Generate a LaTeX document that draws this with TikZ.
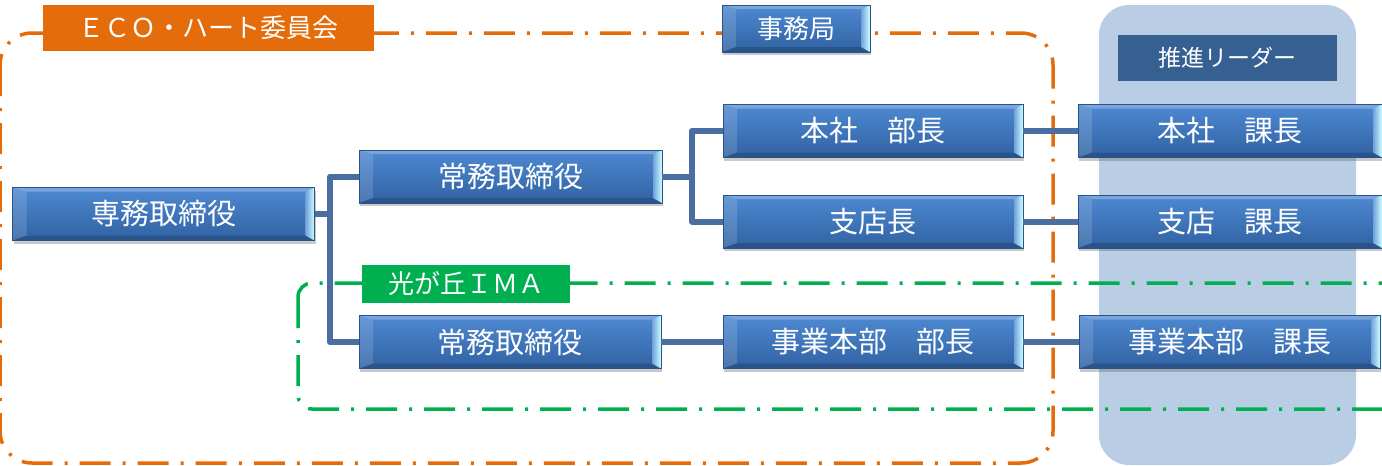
\documentclass[tikz,border=0pt]{standalone}
\usepackage{fontspec}
\newfontfamily\jp{Noto Sans CJK JP}
\usetikzlibrary{shadows}
\definecolor{orng}{HTML}{E46C0A}
\definecolor{grn}{HTML}{00B050}
\definecolor{panel}{HTML}{B9CDE5}
\definecolor{lead}{HTML}{376092}
\definecolor{conn}{HTML}{4A6EA2}
\definecolor{btop}{HTML}{4E89D2}
\definecolor{bbot}{HTML}{3062A2}
\tikzset{
  bevel/.style={path picture={
    \fill[white,opacity=.25] (path picture bounding box.north west) -- (path picture bounding box.north east)
      -- ([xshift=-9pt,yshift=-4pt]path picture bounding box.north east) -- ([xshift=14pt,yshift=-4pt]path picture bounding box.north west) -- cycle;
    \fill[white,opacity=.14] (path picture bounding box.north west) -- ([xshift=14pt,yshift=-4pt]path picture bounding box.north west)
      -- ([xshift=14pt,yshift=5pt]path picture bounding box.south west) -- (path picture bounding box.south west) -- cycle;
    \fill[black,opacity=.16] (path picture bounding box.south west) -- ([xshift=14pt,yshift=5pt]path picture bounding box.south west)
      -- ([xshift=-9pt,yshift=5pt]path picture bounding box.south east) -- (path picture bounding box.south east) -- cycle;
    \shade[left color=btop!80!white, right color=white!80!cyan] (path picture bounding box.north east) -- ([xshift=-9pt,yshift=-4pt]path picture bounding box.north east)
      -- ([xshift=-9pt,yshift=5pt]path picture bounding box.south east) -- (path picture bounding box.south east) -- cycle;
  }},
  bx/.style={rectangle, inner sep=0pt, outer sep=0pt, minimum width=#1, minimum height=53pt,
    top color=btop, bottom color=bbot, draw=bbot!85!black, line width=0.5pt, text=white,
    font=\jp\fontsize{29}{31}\selectfont,
    drop shadow={shadow xshift=1pt, shadow yshift=-3pt, opacity=0.3, fill=black!70}, bevel},
  lbl/.style={rectangle, inner sep=0pt, outer sep=0pt, text=white, font=\jp\fontsize{26}{28}\selectfont},
  cn/.style={draw=conn, line width=6pt, line join=round},
  dd/.style={line width=3.5pt, dash pattern=on 31pt off 12pt on 3pt off 12pt},
}
\begin{document}
\begin{tikzpicture}[x=1pt,y=-1pt]
\useasboundingbox (0,0) rectangle (1382,466);
% background panel
\fill[panel, rounded corners=30pt] (1099,5) rectangle (1356,465);
% group frames
\draw[orng, dd, rounded corners=32pt] (0,33) rectangle (1053,463);
\draw[grn, dd, rounded corners=14pt] (298,283) rectangle (1440,409);
% labels
\node[lbl, fill=orng, minimum width=331pt, minimum height=46pt] (eco) at (208.5,28) {ＥＣＯ・ハート委員会};
\node[lbl, fill=grn, minimum width=208pt, minimum height=38pt] (ima) at (466,284) {光が丘ＩＭＡ};
\node[lbl, fill=lead, minimum width=219pt, minimum height=46pt, font=\jp\fontsize{23}{25}\selectfont] (lead) at (1227.5,58) {推進リーダー};
% boxes
\node[bx=148pt, minimum height=47pt, font=\jp\fontsize{26}{28}\selectfont] (jm) at (796,28.5) {事務局};
\node[bx=302pt] (s1) at (163.5,214) {専務取締役};
\node[bx=303pt] (j1) at (510.5,176.5) {常務取締役};
\node[bx=302pt] (j2) at (510,342) {常務取締役};
\node[bx=300pt] (b1) at (873,131) {本社　部長};
\node[bx=300pt] (b2) at (873,221.5) {支店長};
\node[bx=300pt] (b3) at (873,342) {事業本部　部長};
\node[bx=304pt] (k1) at (1230,131) {本社　課長};
\node[bx=304pt] (k2) at (1230,221.5) {支店　課長};
\node[bx=301pt] (k3) at (1229.5,342) {事業本部　課長};
% connectors
\coordinate (t1) at (330,214);
\coordinate (t2) at (692,176.5);
\draw[cn] (s1.east) -- (t1);
\draw[cn] (j1.west) -| (t1);
\draw[cn] (j2.west) -| (t1);
\draw[cn] (j1.east) -- (t2);
\draw[cn] (b1.west) -| (t2);
\draw[cn] (b2.west) -| (t2);
\draw[cn] (j2.east) -- (b3.west);
\draw[cn] (b1.east) -- (k1.west);
\draw[cn] (b2.east) -- (k2.west);
\draw[cn] (b3.east) -- (k3.west);
\end{tikzpicture}
\end{document}
